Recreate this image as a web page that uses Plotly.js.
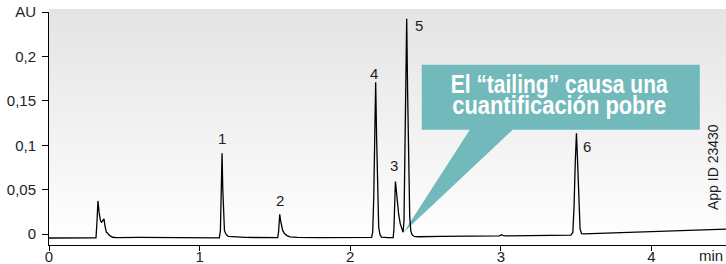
<!DOCTYPE html>
<html>
<head>
<meta charset="utf-8">
<script src="https://cdn.plot.ly/plotly-3.0.1.min.js"></script>
<style>html,body{margin:0;padding:0;background:#fff;}#chart{width:726px;height:264px;}</style>
</head>
<body>
<div id="chart"></div>
<script>
// ---- data ----
var timeMin = [
  0, 0.10, 0.20, 0.30, 0.312, 0.318, 0.325, 0.333, 0.342, 0.350, 0.358, 0.365, 0.372, 0.381, 0.390, 0.398, 0.421, 0.45,
  0.6, 0.8, 1.0, 1.12, 1.131, 1.138, 1.143, 1.149, 1.154, 1.159, 1.165, 1.175, 1.19, 1.3, 1.45,
  1.518, 1.524, 1.528, 1.532, 1.537, 1.543, 1.552, 1.565, 1.58, 1.60, 1.65, 1.8, 2.0, 2.10,
  2.142, 2.149, 2.156, 2.163, 2.169, 2.175, 2.182, 2.189, 2.197, 2.207, 2.25,
  2.285, 2.290, 2.294, 2.297, 2.300, 2.305, 2.313, 2.322, 2.332, 2.342, 2.351,
  2.357, 2.362, 2.368, 2.375, 2.381, 2.388, 2.395, 2.402, 2.41, 2.425, 2.45,
  2.6, 2.8, 2.99, 3.005, 3.012, 3.03, 3.1, 3.19, 3.205, 3.225, 3.35, 3.465,
  3.478, 3.486, 3.494, 3.502, 3.510, 3.518, 3.526, 3.536, 3.55, 3.7, 3.9, 4.1, 4.3, 4.495
];
var absorbanceAU = [
  -0.0042, -0.0042, -0.0041, -0.0041, -0.0040, 0.012, 0.0375, 0.024, 0.015, 0.0135, 0.0165, 0.0172, 0.009, 0.0022, 0.0012, -0.0008, -0.0034, -0.0038,
  -0.0035, -0.0034, -0.0036, -0.0040, -0.0040, 0.004, 0.045, 0.0912, 0.050, 0.015, 0.004, 0.0, -0.0025, -0.0036, -0.0038,
  -0.0038, 0.002, 0.012, 0.0225, 0.016, 0.009, 0.004, 0.0005, -0.0015, -0.003, -0.0036, -0.0037, -0.0036, -0.0036,
  -0.0035, 0.002, 0.040, 0.110, 0.171, 0.110, 0.040, 0.008, 0.0, -0.0032, -0.0038,
  -0.0037, 0.005, 0.030, 0.050, 0.0593, 0.051, 0.036, 0.022, 0.012, 0.006, 0.0022,
  0.015, 0.070, 0.160, 0.2424, 0.160, 0.070, 0.020, 0.004, -0.0005, -0.0025, -0.0028,
  -0.0025, -0.0021, -0.0018, -0.0005, -0.0012, -0.0018, -0.0017, -0.0015, -0.0008, -0.0014, -0.0012, -0.0010,
  0.002, 0.030, 0.080, 0.1137, 0.080, 0.030, 0.006, 0.0006, 0.0004, 0.0012, 0.0022, 0.0032, 0.0044, 0.0058
];
var peakLabels = ["1", "2", "4", "3", "5", "6"];
var peakTimes = [1.149, 1.532, 2.169, 2.300, 2.375, 3.502];
var peakHeights = [0.0912, 0.0225, 0.171, 0.0593, 0.2424, 0.1137];
var xTickVals = [0, 1, 2, 3, 4];
var xTickText = ["0", "1", "2", "3", "4"];
var yTickVals = [0, 0.05, 0.1, 0.15, 0.2, 0.25];
var yTickText = ["0", "0,05", "0,1", "0,15", "0,2", "AU"];
var calloutLines = ["El \u201Ctailing\u201D causa una", "cuantificaci\u00F3n pobre"];
var xUnit = "min";
var appId = "App ID 23430";

// ---- styling / layout ----
var FONT = "Liberation Sans, Arial, Helvetica, sans-serif";
var INK = "#1e1e1e";
var TEAL = "#72b9bc";

// label offsets in px (x right, y up) relative to each peak top
var labelShift = [[0, 15], [0, 14], [-2, 9], [-1, 16], [12, -7], [11, -13]];

var annotations = peakLabels.map(function (t, i) {
  return {
    x: peakTimes[i], y: peakHeights[i], xref: "x", yref: "y",
    text: t, showarrow: false, xanchor: "center", yanchor: "middle",
    xshift: labelShift[i][0], yshift: labelShift[i][1],
    font: {family: FONT, size: 15, color: INK}
  };
});

var calloutFont = {family: FONT, size: 25, color: "#ffffff", weight: 700};
annotations.push({x: 3.391, y: 0.1693, xref: "x", yref: "y", text: calloutLines[0], showarrow: false,
  xanchor: "center", yanchor: "middle", font: calloutFont});
annotations.push({x: 3.391, y: 0.1450, xref: "x", yref: "y", text: calloutLines[1], showarrow: false,
  xanchor: "center", yanchor: "middle", font: calloutFont});
annotations.push({x: 4.41, y: 0.0758, xref: "x", yref: "y", text: appId, showarrow: false, textangle: -90,
  xanchor: "center", yanchor: "middle", font: {family: FONT, size: 14, color: INK}});
annotations.push({x: 1, y: -0.047, xref: "paper", yref: "paper", text: xUnit, showarrow: false,
  xanchor: "right", yanchor: "middle", xshift: -2, borderpad: 0,
  font: {family: FONT, size: 15, color: INK}});

var gradSvg = '<svg xmlns="http://www.w3.org/2000/svg" width="10" height="100" preserveAspectRatio="none">' +
  '<defs><linearGradient id="g" x1="0" y1="0" x2="0" y2="1">' +
  '<stop offset="0" stop-color="#e4e4e4"/><stop offset="1" stop-color="#ffffff"/></linearGradient></defs>' +
  '<rect width="10" height="100" fill="url(#g)"/></svg>';

var layout = {
  width: 726, height: 264,
  margin: {l: 49, r: 0, t: 12, b: 19, pad: 0},
  paper_bgcolor: "#ffffff", plot_bgcolor: "#ffffff",
  showlegend: false,
  separators: ",.",
  font: {family: FONT, size: 15, color: INK},
  xaxis: {
    range: [0, 4.495], tickvals: xTickVals, ticktext: xTickText,
    showgrid: false, zeroline: false, showline: true, linecolor: "#000", linewidth: 1,
    ticks: "outside", ticklen: 5, tickcolor: "#000", tickwidth: 1, ticklabelstandoff: -7,
    tickfont: {family: FONT, size: 15, color: INK}, fixedrange: true
  },
  yaxis: {
    range: [-0.0121, 0.25], tickvals: yTickVals, ticktext: yTickText,
    showgrid: false, zeroline: false, showline: true, linecolor: "#000", linewidth: 1,
    ticks: "outside", ticklen: 6, tickcolor: "#000", tickwidth: 1, ticklabelstandoff: 3,
    tickfont: {family: FONT, size: 15, color: INK}, fixedrange: true
  },
  images: [{
    source: "data:image/svg+xml;utf8," + encodeURIComponent(gradSvg),
    xref: "paper", yref: "paper", x: 0, y: 1 + 3 / 233, sizex: 1, sizey: 1 + 3 / 233,
    xanchor: "left", yanchor: "top", sizing: "stretch", layer: "below"
  }],
  shapes: [{
    type: "path", xref: "x", yref: "y", layer: "below",
    path: "M 2.475,0.1907 L 4.321,0.1907 L 4.321,0.1175 L 3.079,0.1175 L 2.355,0.0022 L 2.794,0.1175 L 2.475,0.1175 Z",
    fillcolor: TEAL, line: {width: 0}
  }],
  annotations: annotations
};

var trace = {
  x: timeMin, y: absorbanceAU, type: "scatter", mode: "lines",
  line: {color: "#000000", width: 1.3}, hoverinfo: "skip"
};

// condensed look for the callout text (horizontal compression of real text)
var calloutScale = [0.84, 0.875];
function condenseCallout() {
  var nodes = document.querySelectorAll("#chart text.annotation-text");
  nodes.forEach(function (n) {
    var k = calloutLines.indexOf(n.textContent);
    if (k >= 0) {
      n.style.transformBox = "fill-box";
      n.style.transformOrigin = "center";
      n.style.transform = "scaleX(" + calloutScale[k] + ")";
    }
  });
}

Plotly.newPlot("chart", [trace], layout, {staticPlot: true, displayModeBar: false}).then(condenseCallout);
</script>
</body>
</html>
